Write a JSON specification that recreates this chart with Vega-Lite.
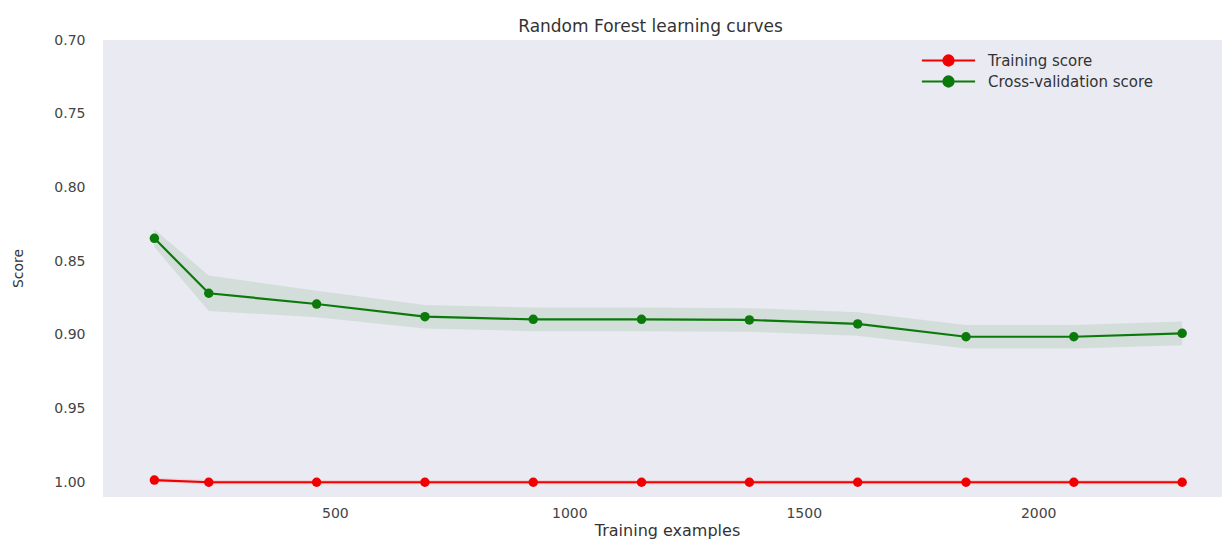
{
  "$schema": "https://vega.github.io/schema/vega-lite/v6.json",
  "width": 1119,
  "height": 457,
  "autosize": {"type": "none"},
  "padding": {"left": 103, "top": 40, "right": 1, "bottom": 46},
  "background": "white",
  "title": {
    "text": "Random Forest learning curves",
    "font": "DejaVu Sans",
    "fontSize": 17,
    "fontWeight": "normal",
    "color": "#333333",
    "anchor": "middle",
    "dx": -12,
    "offset": -3
  },
  "config": {
    "view": {"fill": "#EAEAF2", "stroke": null},
    "axis": {
      "grid": false,
      "ticks": false,
      "domain": false,
      "labelFont": "DejaVu Sans",
      "labelFontSize": 14,
      "labelColor": "#444444",
      "titleFont": "DejaVu Sans",
      "titleFontWeight": "normal",
      "titleColor": "#333333"
    }
  },
  "data": {
    "values": [
      {"n": 115, "series": "Training score", "score": 0.9985, "lo": 0.997, "hi": 1.0},
      {"n": 231, "series": "Training score", "score": 1.0, "lo": 0.9985, "hi": 1.0015},
      {"n": 461, "series": "Training score", "score": 1.0, "lo": 0.9985, "hi": 1.0015},
      {"n": 692, "series": "Training score", "score": 1.0, "lo": 0.9985, "hi": 1.0015},
      {"n": 923, "series": "Training score", "score": 1.0, "lo": 0.9985, "hi": 1.0015},
      {"n": 1154, "series": "Training score", "score": 1.0, "lo": 0.9985, "hi": 1.0015},
      {"n": 1384, "series": "Training score", "score": 1.0, "lo": 0.9985, "hi": 1.0015},
      {"n": 1615, "series": "Training score", "score": 1.0, "lo": 0.9985, "hi": 1.0015},
      {"n": 1846, "series": "Training score", "score": 1.0, "lo": 0.9985, "hi": 1.0015},
      {"n": 2076, "series": "Training score", "score": 1.0, "lo": 0.9985, "hi": 1.0015},
      {"n": 2307, "series": "Training score", "score": 1.0, "lo": 0.9985, "hi": 1.0015},
      {"n": 115, "series": "Cross-validation score", "score": 0.8345, "lo": 0.8285, "hi": 0.8405},
      {"n": 231, "series": "Cross-validation score", "score": 0.8718, "lo": 0.8598, "hi": 0.8838},
      {"n": 461, "series": "Cross-validation score", "score": 0.8791, "lo": 0.8701, "hi": 0.8881},
      {"n": 692, "series": "Cross-validation score", "score": 0.8877, "lo": 0.8797, "hi": 0.8957},
      {"n": 923, "series": "Cross-validation score", "score": 0.8895, "lo": 0.8815, "hi": 0.8975},
      {"n": 1154, "series": "Cross-validation score", "score": 0.8895, "lo": 0.8815, "hi": 0.8975},
      {"n": 1384, "series": "Cross-validation score", "score": 0.8899, "lo": 0.8819, "hi": 0.8979},
      {"n": 1615, "series": "Cross-validation score", "score": 0.8926, "lo": 0.8846, "hi": 0.9006},
      {"n": 1846, "series": "Cross-validation score", "score": 0.9013, "lo": 0.8933, "hi": 0.9093},
      {"n": 2076, "series": "Cross-validation score", "score": 0.9013, "lo": 0.8933, "hi": 0.9093},
      {"n": 2307, "series": "Cross-validation score", "score": 0.899, "lo": 0.891, "hi": 0.907}
    ]
  },
  "encoding": {
    "x": {
      "field": "n",
      "type": "quantitative",
      "scale": {"domain": [5.4, 2392], "nice": false, "zero": false},
      "axis": {
        "values": [500, 1000, 1500, 2000],
        "format": "d",
        "labelPadding": 9,
        "title": "Training examples",
        "titleFontSize": 16,
        "titleX": 564,
        "titleY": 33,
        "titleAlign": "center",
        "titleBaseline": "middle"
      }
    },
    "color": {
      "field": "series",
      "type": "nominal",
      "scale": {
        "domain": ["Training score", "Cross-validation score"],
        "range": ["#f00000", "#0b7a0b"]
      },
      "legend": {
        "orient": "none",
        "legendX": 837,
        "legendY": 12,
        "title": null,
        "symbolType": "M -3.8 0 L 3.8 0 M -0.72 0 A 0.72 0.72 0 1 0 0.72 0 A 0.72 0.72 0 1 0 -0.72 0 Z",
        "symbolSize": 196,
        "symbolStrokeWidth": 2.2,
        "symbolOpacity": 1,
        "labelOffset": 31,
        "labelLimit": 400,
        "labelFont": "DejaVu Sans",
        "labelFontSize": 15,
        "labelColor": "#333333",
        "rowPadding": 2,
        "encode": {
          "symbols": {
            "update": {
              "fill": {"scale": "color", "field": "value"},
              "stroke": {"scale": "color", "field": "value"},
              "strokeWidth": {"value": 2.2},
              "opacity": {"value": 1}
            }
          }
        }
      }
    }
  },
  "layer": [
    {
      "mark": {"type": "area", "opacity": 0.1},
      "encoding": {
        "y": {
          "field": "lo",
          "type": "quantitative",
          "scale": {"domain": [0.7, 1.01], "reverse": true, "nice": false, "zero": false},
          "axis": {
            "values": [0.7, 0.75, 0.8, 0.85, 0.9, 0.95, 1.0],
            "format": ".2f",
            "labelPadding": 18,
            "title": "Score",
            "titleFontSize": 14,
            "titleAngle": 270,
            "titleX": -85,
            "titleY": 228,
            "titleAlign": "center",
            "titleBaseline": "middle"
          }
        },
        "y2": {"field": "hi"}
      }
    },
    {
      "mark": {"type": "line", "strokeWidth": 2.2},
      "encoding": {
        "y": {"field": "score", "type": "quantitative"}
      }
    },
    {
      "mark": {"type": "point", "filled": true, "size": 90, "opacity": 1},
      "encoding": {
        "y": {"field": "score", "type": "quantitative"}
      }
    }
  ]
}
